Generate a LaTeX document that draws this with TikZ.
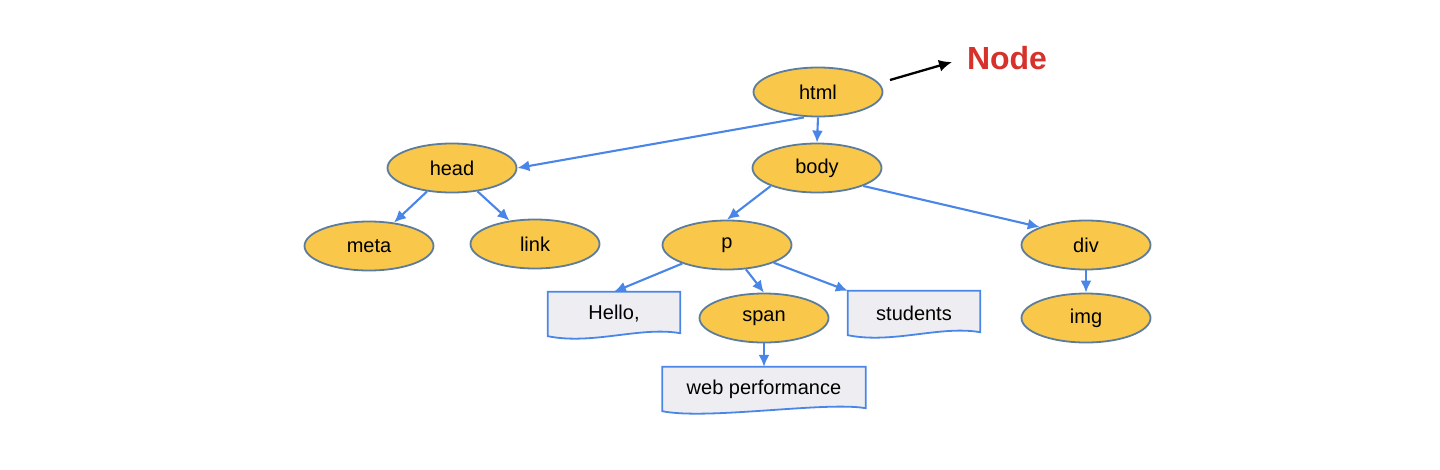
\documentclass[tikz,border=0pt]{standalone}
\usepackage{fontspec}
\setmainfont{Liberation Sans}
\usetikzlibrary{shapes.geometric,arrows.meta,backgrounds}
\definecolor{nodefill}{HTML}{F9C74A}
\definecolor{nodeedge}{HTML}{5C7C9C}
\definecolor{linkblue}{HTML}{4A86E8}
\definecolor{docfill}{HTML}{EEEEF2}
\definecolor{nodered}{HTML}{D6312B}
\tikzset{
  elnode/.style={ellipse, draw=nodeedge, line width=1.8pt, fill=nodefill,
    minimum width=129pt, minimum height=49pt, inner sep=0pt, font=\fontsize{20}{22}\selectfont},
  docnode/.style={rectangle, draw=none, inner sep=0pt, minimum height=44pt, font=\fontsize{20}{22}\selectfont},
  docshape/.style={draw=linkblue, line width=1.8pt, fill=docfill},
  link/.style={draw=linkblue, line width=2.1pt, -{Latex[length=12pt,width=11pt]}},
  blackarrow/.style={draw=black, line width=2.3pt, -{Latex[length=13pt,width=12pt]}}
}
\newcommand{\docpath}[1]{%
  \path[docshape] (#1.north west) -- (#1.north east) -- ([yshift=3pt]#1.south east)
    .. controls +(-40pt,7pt) and +(45pt,-9pt) .. (#1.south west) -- cycle;}
\begin{document}
\begin{tikzpicture}[x=1pt,y=-1pt]
\useasboundingbox (0,0) rectangle (1440,469);
\node[elnode] (html) at (818,92) {html};
\node[elnode] (head) at (452,168) {head};
\node[elnode] (body) at (817,168) {body};
\node[elnode] (meta) at (369,246) {meta};
\node[elnode] (linkn) at (535,244) {link};
\node[elnode] (p) at (727,245) {p};
\node[elnode] (div) at (1086,245) {div};
\node[elnode] (img) at (1086,318) {img};
\node[elnode] (span) at (764,318) {span};
\node[docnode, minimum width=132pt] (hello) at (614,314) {Hello,};
\node[docnode, minimum width=132pt] (students) at (914,313) {students};
\node[docnode, minimum width=203pt] (web) at (764,389) {web performance};
\node[font=\fontsize{32}{36}\selectfont\bfseries, text=nodered, inner sep=0pt] (nodelabel) at (1007,58) {Node};
\coordinate (arrstart) at (890,80);
\coordinate (arrend) at (952,62);
\begin{pgfonlayer}{background}
\docpath{hello}
\docpath{students}
\docpath{web}
\end{pgfonlayer}
\draw[blackarrow] (arrstart) -- (arrend);
\draw[link] (html.south) -- (body.north);
\draw[link] ([xshift=-14pt]html.south) -- (head.east);
\draw[link] (body.south west) -- (p.north);
\draw[link] (body.south east) -- (div.north west);
\draw[link] (head) -- (meta);
\draw[link] (head) -- (linkn);
\draw[link] (p) -- (hello.north);
\draw[link] (p) -- (span.north);
\draw[link] (p) -- (students.north west);
\draw[link] (div) -- (img);
\draw[link] (span) -- (web);
\end{tikzpicture}
\end{document}
